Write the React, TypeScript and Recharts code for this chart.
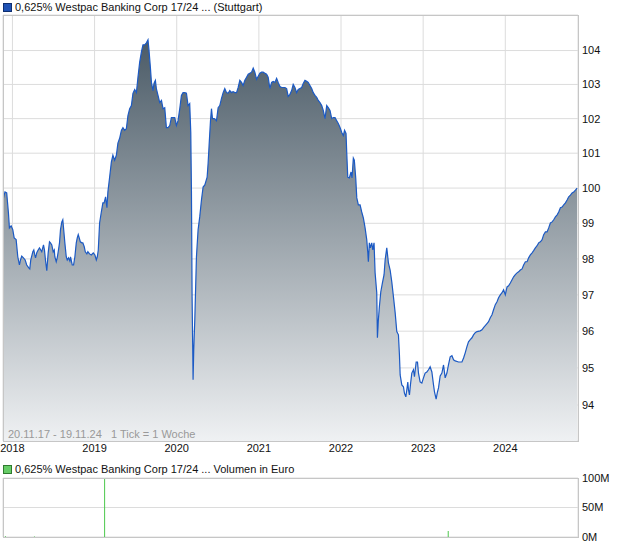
import { AreaChart, Area, XAxis, YAxis, CartesianGrid, ComposedChart, Bar } from "recharts";

// weekly closing prices as [decimal year, price]
const p2017: [number, number][] = [
  [2017.885, 99.66], [2017.909, 99.89], [2017.93, 99.86], [2017.951, 99.3], [2017.963, 98.87], [2017.984, 98.93],
];
const p2018: [number, number][] = [
  [2018.004, 98.82], [2018.021, 98.59], [2018.045, 98.54], [2018.065, 98.06], [2018.085, 97.83], [2018.098, 97.97],
  [2018.113, 98.08], [2018.134, 98.03], [2018.155, 97.97], [2018.174, 97.83], [2018.199, 97.75], [2018.211, 97.72],
  [2018.223, 97.97], [2018.248, 98.2], [2018.26, 98.25], [2018.272, 98.11], [2018.281, 98.03], [2018.296, 98.17],
  [2018.313, 98.25], [2018.329, 98.31], [2018.345, 98.25], [2018.357, 98.2], [2018.378, 98.39], [2018.39, 98.25],
  [2018.402, 97.97], [2018.418, 97.67], [2018.435, 98.17], [2018.451, 98.48], [2018.463, 98.45], [2018.479, 98.39],
  [2018.496, 98.2], [2018.509, 98.25], [2018.516, 98.06], [2018.533, 97.92], [2018.545, 98.03], [2018.557, 98.2],
  [2018.573, 98.45], [2018.585, 98.82], [2018.601, 99.04], [2018.613, 99.1], [2018.626, 98.76], [2018.638, 98.45],
  [2018.655, 98.06], [2018.667, 97.97], [2018.683, 98.03], [2018.699, 97.94], [2018.707, 98.06], [2018.728, 97.83],
  [2018.744, 97.83], [2018.76, 98.06], [2018.777, 98.45], [2018.789, 98.59], [2018.801, 98.68], [2018.813, 98.59],
  [2018.826, 98.48], [2018.845, 98.45], [2018.857, 98.45], [2018.874, 98.34], [2018.887, 98.2], [2018.906, 98.14],
  [2018.918, 98.2], [2018.939, 98.14], [2018.96, 98.11], [2018.984, 98.17],
];
const p2019: [number, number][] = [
  [2019.004, 98.11], [2019.021, 97.97], [2019.033, 98.06], [2019.045, 98.25], [2019.061, 99.01], [2019.082, 99.32],
  [2019.101, 99.58], [2019.116, 99.58], [2019.134, 99.75], [2019.15, 99.44], [2019.162, 99.89], [2019.183, 100.31],
  [2019.204, 100.74], [2019.223, 100.94], [2019.244, 100.8], [2019.265, 100.94], [2019.284, 101.29], [2019.305, 101.43],
  [2019.326, 101.66], [2019.345, 101.74], [2019.366, 101.66], [2019.387, 101.71], [2019.406, 102.09], [2019.427, 102.29],
  [2019.448, 102.38], [2019.467, 102.74], [2019.488, 102.85], [2019.509, 102.76], [2019.528, 103.21], [2019.549, 103.66],
  [2019.57, 103.96], [2019.589, 104.17], [2019.61, 104.17], [2019.631, 104.23], [2019.65, 104.32], [2019.662, 104.02],
  [2019.679, 103.51], [2019.692, 103.06], [2019.711, 102.82], [2019.723, 103.03], [2019.74, 103.12], [2019.752, 102.88],
  [2019.772, 102.68], [2019.793, 102.47], [2019.814, 102.53], [2019.833, 102.29], [2019.854, 102.32], [2019.874, 101.74],
  [2019.894, 101.74], [2019.915, 101.8], [2019.935, 102.03], [2019.955, 102.03], [2019.976, 102.03], [2019.996, 101.8],
];
const p2020: [number, number][] = [
  [2020.016, 101.94], [2020.037, 102.29], [2020.057, 102.68], [2020.077, 102.76], [2020.098, 102.76], [2020.118, 102.74],
  [2020.138, 102.38], [2020.158, 102.44], [2020.171, 101.6], [2020.179, 99.94], [2020.187, 96.95], [2020.199, 94.68],
  [2020.207, 95.49], [2020.22, 96.32], [2020.24, 98.06], [2020.26, 98.82], [2020.28, 99.18], [2020.301, 99.66],
  [2020.321, 100.03], [2020.342, 100.09], [2020.37, 100.31], [2020.382, 100.71], [2020.394, 101.23], [2020.411, 101.94],
  [2020.423, 102.29], [2020.435, 102.0], [2020.457, 102.0], [2020.484, 101.94], [2020.504, 102.32], [2020.524, 102.38],
  [2020.545, 102.59], [2020.565, 102.76], [2020.585, 102.88], [2020.606, 102.76], [2020.626, 102.74], [2020.646, 102.82],
  [2020.667, 102.76], [2020.686, 102.79], [2020.707, 102.76], [2020.728, 102.76], [2020.748, 102.91], [2020.768, 103.12],
  [2020.789, 103.06], [2020.808, 102.97], [2020.829, 103.12], [2020.85, 103.21], [2020.87, 103.3], [2020.89, 103.33],
  [2020.911, 103.36], [2020.931, 103.48], [2020.951, 103.36], [2020.972, 103.15], [2020.992, 103.24],
];
const p2021: [number, number][] = [
  [2021.012, 103.33], [2021.033, 103.36], [2021.052, 103.36], [2021.073, 103.33], [2021.094, 103.3], [2021.113, 103.21],
  [2021.134, 102.88], [2021.155, 103.06], [2021.174, 103.09], [2021.195, 103.06], [2021.216, 103.18], [2021.235, 103.06],
  [2021.256, 102.94], [2021.277, 102.91], [2021.296, 102.91], [2021.317, 102.91], [2021.338, 102.88], [2021.357, 102.65],
  [2021.378, 102.71], [2021.399, 102.82], [2021.418, 103.0], [2021.439, 102.91], [2021.46, 102.76], [2021.479, 102.85],
  [2021.5, 102.88], [2021.521, 102.91], [2021.54, 103.03], [2021.561, 103.12], [2021.582, 103.09], [2021.601, 103.06],
  [2021.622, 102.97], [2021.643, 102.88], [2021.662, 102.76], [2021.683, 102.68], [2021.704, 102.62], [2021.723, 102.53],
  [2021.744, 102.47], [2021.765, 102.38], [2021.784, 102.24], [2021.805, 102.0], [2021.826, 102.38], [2021.845, 102.32],
  [2021.866, 102.24], [2021.887, 102.0], [2021.906, 102.03], [2021.927, 102.03], [2021.948, 101.94], [2021.967, 101.86],
  [2021.988, 101.74],
];
const p2022: [number, number][] = [
  [2022.009, 101.6], [2022.028, 101.51], [2022.043, 101.66], [2022.061, 101.57], [2022.07, 101.0], [2022.082, 100.31],
  [2022.101, 100.29], [2022.122, 100.46], [2022.134, 100.29], [2022.15, 100.86], [2022.162, 100.8], [2022.179, 100.29],
  [2022.192, 99.72], [2022.211, 99.52], [2022.232, 99.52], [2022.252, 99.32], [2022.272, 99.15], [2022.293, 98.87],
  [2022.313, 98.54], [2022.326, 98.17], [2022.333, 97.92], [2022.345, 98.45], [2022.357, 98.31], [2022.374, 98.45],
  [2022.387, 98.25], [2022.402, 98.45], [2022.415, 97.61], [2022.435, 97.06], [2022.443, 95.82], [2022.455, 96.32],
  [2022.467, 96.67], [2022.484, 97.08], [2022.504, 97.33], [2022.524, 97.56], [2022.537, 97.97], [2022.557, 98.31],
  [2022.569, 98.06], [2022.577, 97.89], [2022.598, 97.69], [2022.618, 97.36], [2022.638, 96.95], [2022.659, 96.51],
  [2022.679, 95.99], [2022.699, 95.9], [2022.711, 95.36], [2022.72, 94.81], [2022.74, 94.54], [2022.76, 94.49],
  [2022.772, 94.32], [2022.789, 94.22], [2022.801, 94.41], [2022.813, 94.62], [2022.821, 94.41], [2022.833, 94.27],
  [2022.845, 94.54], [2022.862, 94.86], [2022.882, 94.95], [2022.894, 94.76], [2022.915, 95.16], [2022.931, 95.16],
  [2022.943, 94.86], [2022.963, 94.62], [2022.984, 94.59],
];
const p2023: [number, number][] = [
  [2023.004, 94.73], [2023.024, 94.86], [2023.045, 94.89], [2023.065, 94.95], [2023.085, 95.03], [2023.106, 94.89],
  [2023.126, 94.54], [2023.138, 94.35], [2023.158, 94.16], [2023.174, 94.35], [2023.187, 94.46], [2023.207, 94.78],
  [2023.228, 94.86], [2023.248, 95.08], [2023.268, 94.73], [2023.289, 94.86], [2023.308, 95.08], [2023.329, 95.3],
  [2023.35, 95.33], [2023.37, 95.22], [2023.39, 95.19], [2023.431, 95.16], [2023.472, 95.16], [2023.492, 95.27],
  [2023.512, 95.41], [2023.533, 95.58], [2023.552, 95.71], [2023.573, 95.77], [2023.594, 95.82], [2023.613, 95.9],
  [2023.634, 95.96], [2023.655, 95.99], [2023.695, 96.01], [2023.716, 96.04], [2023.735, 96.1], [2023.777, 96.21],
  [2023.796, 96.26], [2023.817, 96.37], [2023.838, 96.45], [2023.857, 96.59], [2023.878, 96.73], [2023.899, 96.81],
  [2023.918, 96.92], [2023.939, 97.0], [2023.96, 97.06], [2023.979, 97.14],
];
const p2024: [number, number][] = [
  [2024.0, 97.0], [2024.021, 97.22], [2024.04, 97.25], [2024.061, 97.33], [2024.082, 97.42], [2024.101, 97.5],
  [2024.122, 97.56], [2024.143, 97.61], [2024.162, 97.64], [2024.183, 97.69], [2024.204, 97.72], [2024.223, 97.83],
  [2024.244, 97.92], [2024.265, 97.92], [2024.284, 98.03], [2024.305, 98.11], [2024.326, 98.17], [2024.345, 98.23],
  [2024.366, 98.31], [2024.387, 98.37], [2024.406, 98.45], [2024.427, 98.48], [2024.448, 98.54], [2024.467, 98.68],
  [2024.488, 98.76], [2024.509, 98.76], [2024.528, 98.87], [2024.549, 99.01], [2024.57, 99.04], [2024.589, 99.1],
  [2024.61, 99.18], [2024.631, 99.24], [2024.65, 99.32], [2024.671, 99.44], [2024.691, 99.46], [2024.711, 99.52],
  [2024.732, 99.58], [2024.752, 99.66], [2024.772, 99.75], [2024.793, 99.8], [2024.813, 99.86], [2024.833, 99.89],
  [2024.854, 99.94], [2024.874, 100.0],
];

const yearTicks = [2018, 2019, 2020, 2021, 2022, 2023, 2024];
const priceTicks = [94, 95, 96, 97, 98, 99, 100, 101, 102, 103, 104];
const xDomain = [2017.885, 2024.885];
const priceDomain = [93.04, 105.06];

// traded volume in euro
const volumeDates = [2017.915, 2018.268, 2019.122, 2023.305];
const volumeValues = [1200000, 800000, 110000000, 10000000];
const volumeTicks = [0, 50000000, 100000000];

const priceData = [...p2017, ...p2018, ...p2019, ...p2020, ...p2021, ...p2022, ...p2023, ...p2024].map(
  ([t, price]) => ({ t, price })
);
const volumeData = volumeDates.map((t, i) => ({ t, volume: volumeValues[i] }));

const font = "'Liberation Sans', Arial, sans-serif";
const tickStyle = { fontSize: 11, fill: "#111", fontFamily: font };
const gridColor = "#dcdcdc";
const frameColor = "#c6c6c6";

export default function App() {
  return (
    <div style={{ position: "absolute", left: 0, top: 0, width: 620, height: 546, background: "#fff", fontFamily: font, overflow: "hidden" }}>
      <div style={{ position: "absolute", left: 0, top: 0 }}>
        <AreaChart width={620} height={461} data={priceData} margin={{ top: 15, right: 0, bottom: 0, left: 3 }}>
          <defs>
            <linearGradient id="priceFill" x1="0" y1="0" x2="0" y2="1">
              <stop offset="0%" stopColor="#4b5b67" />
              <stop offset="100%" stopColor="#eff1f3" />
            </linearGradient>
          </defs>
          <CartesianGrid stroke={gridColor} />
          <XAxis
            dataKey="t"
            type="number"
            domain={xDomain}
            ticks={yearTicks}
            interval={0}
            allowDataOverflow
            height={20}
            tickSize={0}
            tickMargin={3}
            axisLine={false}
            tick={tickStyle}
          />
          <YAxis
            orientation="right"
            type="number"
            scale="log"
            domain={priceDomain}
            ticks={priceTicks}
            interval={0}
            allowDataOverflow
            width={42}
            tickSize={0}
            tickMargin={4}
            axisLine={false}
            tick={{ ...tickStyle, textAnchor: "start" }}
          />
          <Area
            type="linear"
            dataKey="price"
            stroke="#1c5ac4"
            strokeWidth={1.2}
            fill="url(#priceFill)"
            fillOpacity={1}
            isAnimationActive={false}
          />
        </AreaChart>
      </div>
      <div style={{ position: "absolute", left: 3, top: 15, width: 576, height: 427, boxSizing: "border-box", border: `1px solid ${frameColor}` }} />

      <div style={{ position: "absolute", left: 3, top: 3, width: 9, height: 9, boxSizing: "border-box", background: "#1f52b4", border: "1px solid #0f2f70" }} />
      <div style={{ position: "absolute", left: 15, top: 0, fontSize: 11, lineHeight: "14px", color: "#111", whiteSpace: "pre" }}>
        0,625% Westpac Banking Corp 17/24 ... (Stuttgart)
      </div>
      <div style={{ position: "absolute", left: 8, top: 428, fontSize: 11, lineHeight: "13px", color: "#999", whiteSpace: "pre" }}>
        {"20.11.17 - 19.11.24   1 Tick = 1 Woche"}
      </div>

      <div style={{ position: "absolute", left: 3, top: 465, width: 9, height: 9, boxSizing: "border-box", background: "#66cc66", border: "1px solid #2f7a2f" }} />
      <div style={{ position: "absolute", left: 15, top: 462, fontSize: 11, lineHeight: "14px", color: "#111", whiteSpace: "pre" }}>
        0,625% Westpac Banking Corp 17/24 ... Volumen in Euro
      </div>
      <div style={{ position: "absolute", left: 0, top: 470 }}>
        <ComposedChart width={620} height={76} data={volumeData} margin={{ top: 8, right: 0, bottom: 9, left: 3 }}>
          <CartesianGrid stroke={gridColor} />
          <XAxis
            dataKey="t"
            type="number"
            domain={xDomain}
            ticks={yearTicks}
            interval={0}
            allowDataOverflow
            height={0}
            tick={false}
            tickLine={false}
            axisLine={false}
          />
          <YAxis
            orientation="right"
            type="number"
            domain={[0, 100000000]}
            ticks={volumeTicks}
            interval={0}
            allowDataOverflow
            width={42}
            tickSize={0}
            tickMargin={4}
            axisLine={false}
            tick={{ ...tickStyle, textAnchor: "start" }}
            tickFormatter={(v) => `${v / 1000000}M`}
          />
          <Bar dataKey="volume" fill="#4cc84c" barSize={1} isAnimationActive={false} />
        </ComposedChart>
      </div>
      <div style={{ position: "absolute", left: 3, top: 478, width: 576, height: 60, boxSizing: "border-box", border: `1px solid ${frameColor}` }} />
    </div>
  );
}
